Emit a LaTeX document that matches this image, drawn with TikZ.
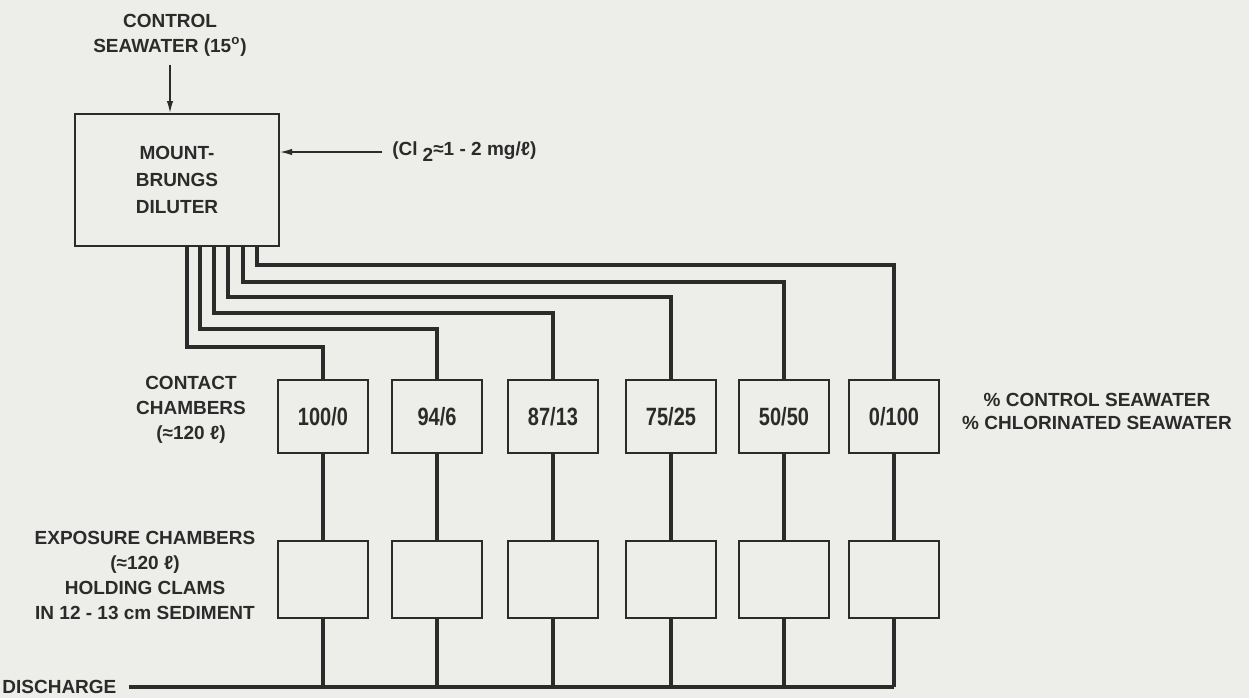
\documentclass[tikz,border=0pt]{standalone}
\usepackage{fontspec}
\setmainfont{Liberation Sans}
\newfontfamily\boxfont{Liberation Sans}[FakeStretch=0.8]
\usetikzlibrary{arrows.meta,calc}
\definecolor{ink}{HTML}{2B2B2B}
\definecolor{paper}{HTML}{EDEDEA}
\begin{document}
\begin{tikzpicture}[x=0.5pt,y=-0.5pt,
  lbl/.style={font=\bfseries\fontsize{9.5}{12.5}\selectfont, align=center, text=ink, inner sep=0pt},
  chamber/.style={draw=ink, line width=1pt, minimum width=45pt, inner sep=0pt,
    font=\boxfont\bfseries\fontsize{12.5}{14}\selectfont, text=ink},
  pipe/.style={draw=ink, line width=1.7pt},
  feed/.style={draw=ink, line width=0.7pt, -{Latex[length=6pt,width=3.2pt]}}]

\fill[paper] (0,0) rectangle (1249,698);
\useasboundingbox (0,0) rectangle (1249,698);

% diluter and inputs
\node[draw=ink, line width=1pt, minimum width=102pt, minimum height=66pt, inner sep=0pt,
      lbl, font=\bfseries\fontsize{9.5}{13.5}\selectfont] (dil) at (177,180) {MOUNT-\\BRUNGS\\DILUTER};
\node[lbl] (ctl) at (170,35) {CONTROL\\SEAWATER (15\textsuperscript{o})};
\draw[feed] ([yshift=-4pt]ctl.south) -- (ctl.south |- dil.north);
\node[lbl, anchor=west] (cl) at (392,152) {(Cl\hspace{2.5pt}\raisebox{-0.6ex}{2}≈1 - 2 mg/ℓ)};
\draw[feed] ([xshift=-5pt]cl.west) -- (dil.east |- cl.west);

% contact and exposure chambers
\foreach \n/\x/\t in {1/323/100{/}0, 2/437/94{/}6, 3/553/87{/}13, 4/671/75{/}25, 5/784/50{/}50, 6/894/0{/}100}{
  \node[chamber, minimum height=36.5pt] (c\n) at (\x,416.5) {\t};
  \node[chamber, minimum height=38.5pt] (e\n) at (\x,579.5) {};
}

% pipes from diluter
\foreach \n/\px/\py in {1/187/347, 2/200/329, 3/214/313, 4/228/297, 5/243/282, 6/257/265}{
  \coordinate (p\n) at (\px,246);
  \draw[pipe] (p\n) -- (\px,\py) -| (c\n.north);
}

% discharge
\node[lbl, anchor=west] (dis) at (2,687) {DISCHARGE};
\coordinate (dend) at (894,687);
\draw[pipe] ([xshift=6pt]dis.east) -- (dend);
\foreach \n in {1,...,6}{
  \draw[pipe] (c\n.south) -- (e\n.north);
  \draw[pipe] (e\n.south) -- (e\n.south |- dend);
}

% labels
\node[lbl] (clab) at (191,410) {CONTACT\\CHAMBERS\\(≈120 ℓ)};
\node[lbl] (elab) at (145,575) {EXPOSURE CHAMBERS\\(≈120 ℓ)\\HOLDING CLAMS\\IN 12 - 13 cm SEDIMENT};
\node[lbl, font=\bfseries\fontsize{9.5}{11.5}\selectfont] (leg) at (1097,411) {\% CONTROL SEAWATER\\\% CHLORINATED SEAWATER};
\end{tikzpicture}
\end{document}
